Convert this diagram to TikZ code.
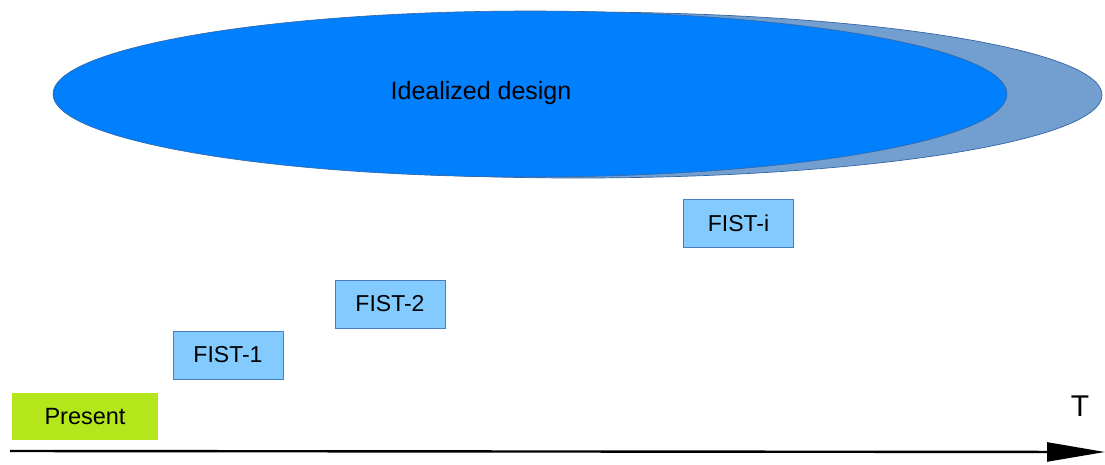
\documentclass[tikz,border=0pt]{standalone}
\usepackage{fontspec}
\setmainfont{Liberation Sans}
\usetikzlibrary{arrows.meta}
\definecolor{ideal}{HTML}{0080FF}
\definecolor{idealback}{HTML}{729FCF}
\definecolor{idealedge}{HTML}{3465A4}
\definecolor{fistfill}{HTML}{83CAFF}
\definecolor{fistedge}{HTML}{4A7EC2}
\definecolor{nowfill}{HTML}{B4E61C}
\tikzset{
  fistbox/.style={draw=fistedge, line width=0.9pt, fill=fistfill,
    minimum width=110pt, minimum height=48pt, inner sep=0pt,
    font=\fontsize{23}{27}\selectfont},
  nowbox/.style={fill=nowfill, minimum width=146pt, minimum height=47pt,
    inner sep=0pt, font=\fontsize{23.5}{27}\selectfont},
  timeaxis/.style={line width=2.4pt, -{Triangle[length=58pt, width=19pt]}},
}
\begin{document}
\begin{tikzpicture}[x=1pt, y=-1pt]
  \useasboundingbox (0,0) rectangle (1105,464);
  % idealized design: a wider shadow ellipse behind the main one
  \filldraw[fill=idealback, draw=idealedge, line width=0.7pt]
    (578,95) ellipse [x radius=524, y radius=83];
  \filldraw[fill=ideal, draw=idealedge, line width=0.6pt]
    (530,94) ellipse [x radius=477, y radius=83];
  \node[font=\fontsize{25}{30}\selectfont] (ideal) at (481,93) {Idealized design};
  % successive steps
  \node[fistbox] (f1) at (228,355) {FIST-1};
  \node[fistbox] (f2) at (390,304) {FIST-2};
  \node[fistbox] (fi) at (738.5,223) {FIST-i};
  \node[nowbox] (now) at (85,416.5) {Present};
  % time axis
  \coordinate (tstart) at (10,451);
  \coordinate (tend) at (1105,452);
  \draw[timeaxis] (tstart) -- (tend);
  \node[font=\fontsize{30}{34}\selectfont] (t) at (1080,406) {T};
\end{tikzpicture}
\end{document}
